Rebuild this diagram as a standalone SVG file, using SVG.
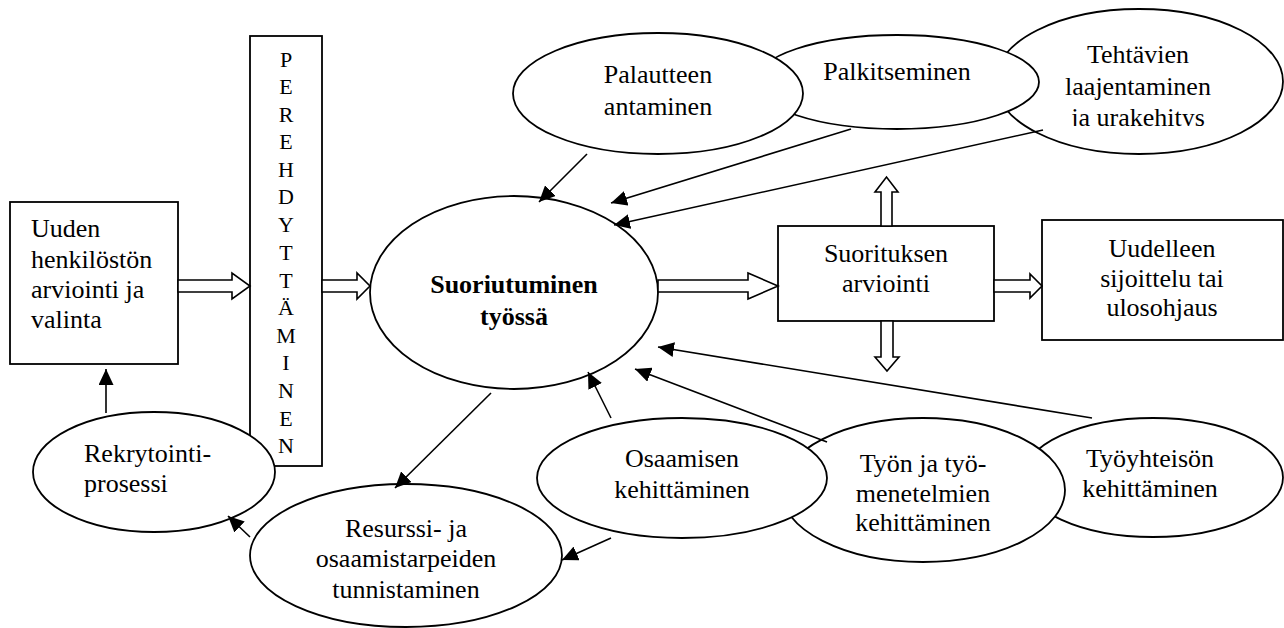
<svg xmlns="http://www.w3.org/2000/svg" width="1284" height="628" viewBox="0 0 1284 628" font-family="'Liberation Serif', 'Times New Roman', 'DejaVu Serif', serif">
<style>
.shape{fill:#fff;stroke:#000;stroke-width:1.8}
.t{font-family:'Liberation Serif','Times New Roman','DejaVu Serif',serif;font-size:26px;fill:#000}
.c{text-anchor:middle}
.b{font-weight:bold}
.v{font-family:'Liberation Serif','Times New Roman','DejaVu Serif',serif;font-size:22px;fill:#000;text-anchor:middle}
.ln{fill:none;stroke:#000;stroke-width:1.6}
.blk{fill:#fff;stroke:#000;stroke-width:1.6;stroke-linejoin:miter}
</style>
<defs>
<marker id="ah" markerUnits="userSpaceOnUse" viewBox="0 0 16 15" refX="16" refY="7.5" markerWidth="16" markerHeight="15" orient="auto">
<path d="M0,0 L16,7.5 L0,15 z" fill="#000"/>
</marker>
<clipPath id="clipT"><rect x="990" y="0" width="294" height="126"/></clipPath>
</defs>
<rect width="1284" height="628" fill="#fff"/>

<g id="uuden">
<rect class="shape" x="10" y="202" width="168" height="162"/>
<text class="t" x="31" y="237">Uuden</text>
<text class="t" x="31" y="268">henkilöstön</text>
<text class="t" x="31" y="298">arviointi ja</text>
<text class="t" x="31" y="328">valinta</text>
</g>

<g id="perehdyttaminen">
<rect class="shape" x="250" y="36" width="72" height="430"/>
<text class="v" x="286" y="67">P</text>
<text class="v" x="286" y="94">E</text>
<text class="v" x="286" y="122">R</text>
<text class="v" x="286" y="149">E</text>
<text class="v" x="286" y="177">H</text>
<text class="v" x="286" y="204">D</text>
<text class="v" x="286" y="232">Y</text>
<text class="v" x="286" y="260">T</text>
<text class="v" x="286" y="288">T</text>
<text class="v" x="286" y="315">Ä</text>
<text class="v" x="286" y="343">M</text>
<text class="v" x="286" y="370">I</text>
<text class="v" x="286" y="398">N</text>
<text class="v" x="286" y="426">E</text>
<text class="v" x="286" y="453">N</text>
</g>

<g id="rekrytointi">
<ellipse class="shape" cx="154" cy="472" rx="121" ry="60"/>
<text class="t" x="84" y="462">Rekrytointi-</text>
<text class="t" x="84" y="492">prosessi</text>
</g>

<g id="suoriutuminen">
<ellipse class="shape" cx="514" cy="292.5" rx="144" ry="96.5"/>
<text class="t c b" x="514" y="293">Suoriutuminen</text>
<text class="t c b" x="514" y="325">työssä</text>
</g>

<g id="tehtavien">
<ellipse class="shape" cx="1139" cy="81.5" rx="144" ry="72.5"/>
<g clip-path="url(#clipT)">
<text class="t c" x="1138" y="63">Tehtävien</text>
<text class="t c" x="1138" y="95">laajentaminen</text>
<text class="t c" x="1138" y="126">ja urakehitys</text>
</g>
</g>

<g id="palkitseminen">
<ellipse class="shape" cx="897" cy="82" rx="142" ry="47"/>
<text class="t c" x="897" y="80">Palkitseminen</text>
</g>

<g id="palautteen">
<ellipse class="shape" cx="658" cy="93.5" rx="145" ry="60.5"/>
<text class="t c" x="658" y="83">Palautteen</text>
<text class="t c" x="658" y="115">antaminen</text>
</g>

<g id="suorituksen">
<rect class="shape" x="778" y="226" width="216" height="95"/>
<text class="t c" x="886" y="262">Suorituksen</text>
<text class="t c" x="886" y="292">arviointi</text>
</g>

<g id="uudelleen">
<rect class="shape" x="1042" y="220" width="241" height="120"/>
<text class="t c" x="1162" y="257">Uudelleen</text>
<text class="t c" x="1162" y="287">sijoittelu tai</text>
<text class="t c" x="1162" y="316">ulosohjaus</text>
</g>

<g id="tyoyhteison">
<ellipse class="shape" cx="1153" cy="477.5" rx="130" ry="59.5"/>
<text class="t c" x="1150" y="467">Työyhteisön</text>
<text class="t c" x="1150" y="497">kehittäminen</text>
</g>

<g id="tyon">
<ellipse class="shape" cx="923" cy="490" rx="142" ry="72"/>
<text class="t c" x="923" y="472">Työn ja työ-</text>
<text class="t c" x="923" y="502">menetelmien</text>
<text class="t c" x="923" y="531">kehittäminen</text>
</g>

<g id="osaamisen">
<ellipse class="shape" cx="682" cy="478" rx="145" ry="60"/>
<text class="t c" x="682" y="467">Osaamisen</text>
<text class="t c" x="682" y="498">kehittäminen</text>
</g>

<g id="resurssi">
<ellipse class="shape" cx="406" cy="555.5" rx="156" ry="71.5"/>
<text class="t c" x="406" y="537">Resurssi- ja</text>
<text class="t c" x="406" y="567">osaamistarpeiden</text>
<text class="t c" x="406" y="598">tunnistaminen</text>
</g>

<g id="connectors">
<polygon class="blk" points="178,280 232,280 232,273 250,286 232,299 232,292 178,292"/>
<polygon class="blk" points="322,280 357,280 357,273 370,286 357,299 357,292 322,292"/>
<polygon class="blk" points="658,280 748,280 748,273 778,286 748,299 748,292 658,292"/>
<polygon class="blk" points="994,280 1030,280 1030,274 1042,286 1030,298 1030,292 994,292"/>
<polygon class="blk" points="881,226 881,192 875,192 886.5,177 898,192 892,192 892,226"/>
<polygon class="blk" points="881,321 881,357 875,357 887,371 899,357 893,357 893,321"/>
<line class="ln" x1="587" y1="154" x2="539" y2="202" marker-end="url(#ah)"/>
<line class="ln" x1="851" y1="129" x2="611" y2="203" marker-end="url(#ah)"/>
<line class="ln" x1="1043" y1="130" x2="614" y2="225" marker-end="url(#ah)"/>
<line class="ln" x1="491" y1="393" x2="395" y2="488" marker-end="url(#ah)"/>
<line class="ln" x1="611" y1="418" x2="588" y2="372" marker-end="url(#ah)"/>
<line class="ln" x1="827" y1="442" x2="635" y2="369" marker-end="url(#ah)"/>
<line class="ln" x1="1092" y1="418" x2="658" y2="347" marker-end="url(#ah)"/>
<line class="ln" x1="611" y1="538" x2="562" y2="560" marker-end="url(#ah)"/>
<line class="ln" x1="250" y1="537" x2="228" y2="516" marker-end="url(#ah)"/>
<line class="ln" x1="106" y1="413" x2="106" y2="369" marker-end="url(#ah)"/>
</g>
</svg>
